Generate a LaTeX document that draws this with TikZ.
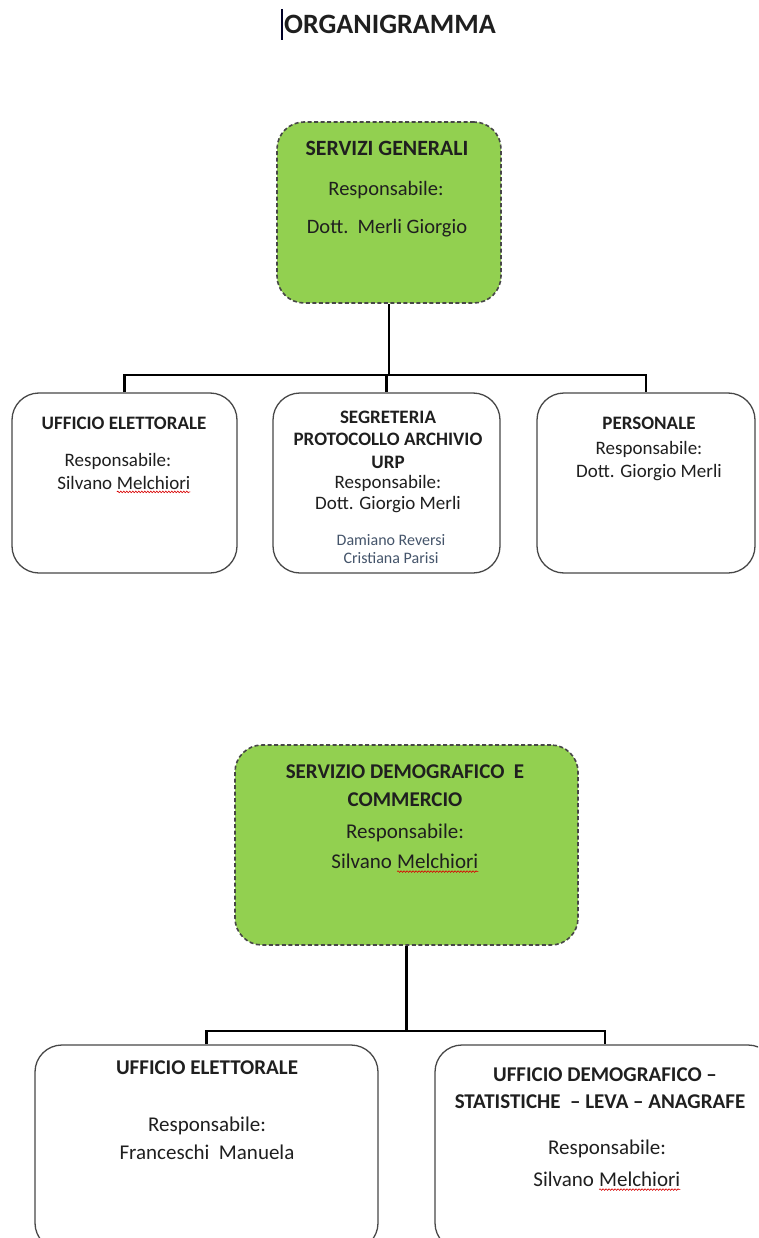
\documentclass[tikz,border=0pt]{standalone}
\usepackage{fontspec}
\setmainfont{Carlito}
\usetikzlibrary{decorations.pathmorphing}
\definecolor{boxgreen}{HTML}{92D050}
\definecolor{namecol}{HTML}{44546A}
\newcommand\spellwave[1]{\tikz[baseline=(sw.base)]{\node[inner sep=0pt,outer sep=0pt,anchor=base,text height=,text depth=](sw){#1};\draw[red!85!black,line width=0.6pt,decorate,decoration={snake,amplitude=0.8pt,segment length=3pt}]([yshift=-2.8pt]sw.base west)--([yshift=-2.8pt]sw.base east);}}
\begin{document}
\begin{tikzpicture}[x=1pt,y=-1pt,
  greenbox/.style={draw=black!72, dash pattern=on 4pt off 2.5pt, line width=1.6pt, fill=boxgreen, rounded corners=27pt, inner sep=0pt},
  unitbox/.style={draw=black!72, line width=1.3pt, rounded corners=27pt, fill=white, inner sep=0pt},
  conn/.style={line width=2.2pt, black},
  txt/.style={inner sep=0pt, text depth=0pt, text=black!88},
  sz/.style={font=\fontsize{#1}{#1}\selectfont, text height=0.644*#1pt},
  bold/.style={font=\bfseries\fontsize{#1}{#1}\selectfont, text height=0.644*#1pt}]
\useasboundingbox (0,0) rectangle (758,1238);
\clip (0,0) rectangle (758,1238);
% title
\node[txt, bold=28] (title) at (390,24) {ORGANIGRAMMA};
\coordinate (cur1) at (282,9);
\coordinate (cur2) at (282,40);
\draw[line width=1.4pt, black!85!blue] (cur1) -- (cur2);

% ---------- upper section ----------
\node[greenbox, minimum width=224, minimum height=181] (sg) at (389,212.5) {};
\node[txt, bold=21.8] (sg1) at (387,148) {SERVIZI GENERALI};
\node[txt, sz=20.5] (sg2) at (386,189) {Responsabile:};
\node[txt, sz=20.5] (sg3) at (387,227) {Dott.\ \ Merli Giorgio};

\node[unitbox, minimum width=225, minimum height=180] (ue) at (124.5,483) {};
\node[txt, bold=19] (ue1) at (124,423) {UFFICIO ELETTORALE};
\node[txt, sz=19] (ue2) at (118,460) {Responsabile:};
\node[txt, sz=19] (ue3) at (124,483) {Silvano \spellwave{Melchiori}};

\node[unitbox, minimum width=227, minimum height=180] (sp) at (386.5,483) {};
\node[txt, bold=19] (sp1) at (388,417) {SEGRETERIA};
\node[txt, bold=19] (sp2) at (388,439) {PROTOCOLLO ARCHIVIO};
\node[txt, bold=19] (sp3) at (388,462) {URP};
\node[txt, sz=19] (sp4) at (388,482) {Responsabile:};
\node[txt, sz=19] (sp5) at (388,503) {Dott. Giorgio Merli};
\node[txt, sz=16, text=namecol] (sp6) at (391,540) {Damiano Reversi};
\node[txt, sz=16, text=namecol] (sp7) at (391,558) {Cristiana Parisi};

\node[unitbox, minimum width=218, minimum height=180] (pe) at (646,483) {};
\node[txt, bold=19] (pe1) at (649,423) {PERSONALE};
\node[txt, sz=19] (pe2) at (649,448) {Responsabile:};
\node[txt, sz=19] (pe3) at (649,471) {Dott. Giorgio Merli};

\coordinate (bus1) at (0,375);
\draw[conn] (sg.south) -- (sg.south |- bus1);
\draw[conn] (ue.north) -- (ue.north |- bus1) -- (pe.north |- bus1) -- (pe.north);
\draw[conn] (sp.north |- bus1) -- (sp.north);

% ---------- lower section ----------
\node[greenbox, minimum width=343, minimum height=200] (sd) at (406.5,845) {};
\node[txt, bold=21] (sd1) at (405,772) {SERVIZIO DEMOGRAFICO\ \ E};
\node[txt, bold=21] (sd2) at (405,800) {COMMERCIO};
\node[txt, sz=21] (sd3) at (405,832) {Responsabile:};
\node[txt, sz=21] (sd4) at (405,862) {Silvano \spellwave{Melchiori}};

\node[unitbox, minimum width=343, minimum height=205] (ue2b) at (206.5,1147.5) {};
\node[txt, bold=21] (ub1) at (207,1068) {UFFICIO ELETTORALE};
\node[txt, sz=21] (ub2) at (207,1125) {Responsabile:};
\node[txt, sz=21] (ub3) at (207,1153) {Franceschi\ \ Manuela};

\node[unitbox, minimum width=340, minimum height=205] (ud) at (605,1147.5) {};
\node[txt, bold=21] (ud1) at (605,1075) {UFFICIO DEMOGRAFICO –};
\node[txt, bold=21] (ud2) at (600,1102) {STATISTICHE \ – LEVA – ANAGRAFE};
\node[txt, sz=21] (ud3) at (607,1148) {Responsabile:};
\node[txt, sz=21] (ud4) at (607,1180) {Silvano \spellwave{Melchiori}};

\coordinate (bus2) at (0,1031);
\draw[conn] (sd.south) -- (sd.south |- bus2);
\draw[conn] (ue2b.north) -- (ue2b.north |- bus2) -- (ud.north |- bus2) -- (ud.north);
\end{tikzpicture}
\end{document}
